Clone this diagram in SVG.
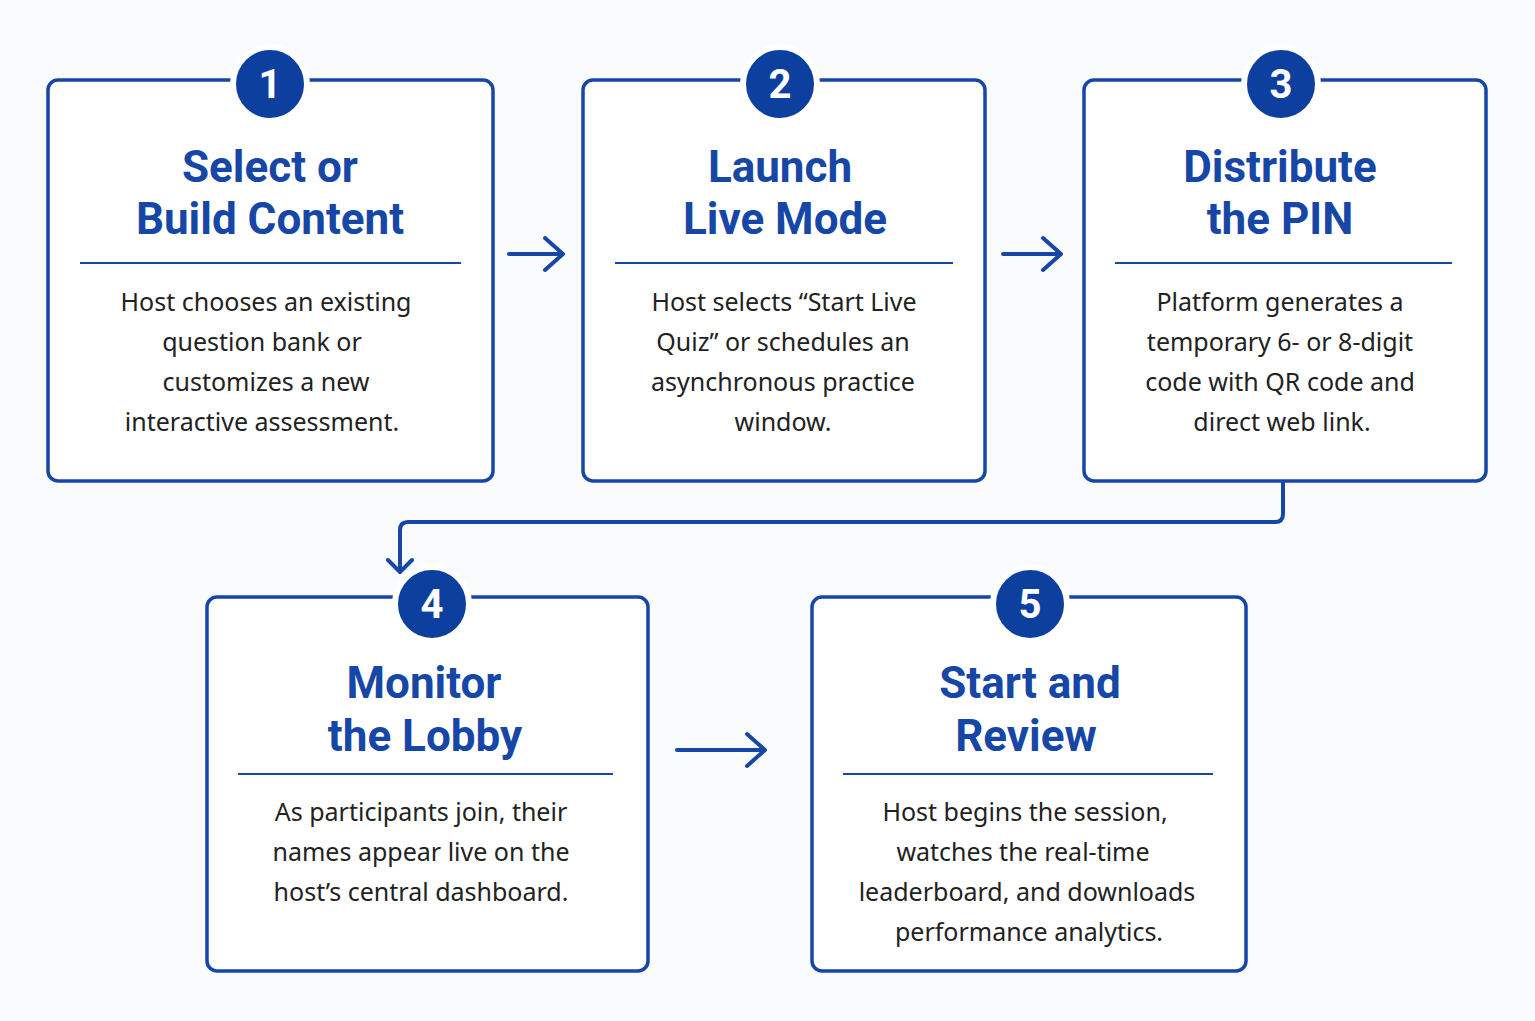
<svg xmlns="http://www.w3.org/2000/svg" width="1535" height="1021" viewBox="0 0 1535 1021">
<style>
.box{fill:#fff;stroke:#1747a6;stroke-width:3.5}
.num{fill:#0d3f9e;stroke:#fff;stroke-width:6}
.nt{fill:#fff;font-family:Roboto,"Liberation Sans",sans-serif;font-weight:bold;font-size:40px;text-anchor:middle}
.t{fill:#1747a6;font-family:Roboto,"Liberation Sans",sans-serif;font-weight:bold;font-size:44px;text-anchor:middle}
.b{fill:#222;font-family:"Noto Sans","DejaVu Sans",sans-serif;font-size:25px;text-anchor:middle}
.div{stroke:#1747a6;stroke-width:2}
.c{fill:none;stroke:#1747a6;stroke-width:4;stroke-linecap:round;stroke-linejoin:round}
</style>
<rect width="1535" height="1021" fill="#fafbfc"/>
<g id="connectors">
<path class="c" d="M509 254H563M545 238L563 254L545 270"/>
<path class="c" d="M1003 254H1061M1043 238L1061 254L1043 270"/>
<path class="c" d="M677 750H765M747 734L765 750L747 766"/>
<path class="c" d="M1283 483V514Q1283 522 1275 522H408Q400 522 400 530V572M388 560L400 572L412 560" stroke-width="3.5"/>
</g>
<g id="n1">
<rect class="box" x="48" y="80" width="445" height="401" rx="10"/>
<circle class="num" cx="270" cy="84" r="37"/><text class="nt" x="270" y="98">1</text>
<text class="t" x="270" y="182">Select or</text><text class="t" x="270" y="234">Build Content</text>
<line class="div" x1="80" y1="263" x2="461" y2="263"/>
<text class="b" x="266" y="311">Host chooses an existing</text>
<text class="b" x="262" y="351">question bank or</text>
<text class="b" x="266" y="391">customizes a new</text>
<text class="b" x="262" y="431">interactive assessment.</text>
</g>
<g id="n2">
<rect class="box" x="583" y="80" width="402" height="401" rx="10"/>
<circle class="num" cx="780" cy="84" r="37"/><text class="nt" x="780" y="98">2</text>
<text class="t" x="780" y="182">Launch</text><text class="t" x="785" y="234">Live Mode</text>
<line class="div" x1="615" y1="263" x2="953" y2="263"/>
<text class="b" x="784" y="311">Host selects “Start Live</text>
<text class="b" x="783" y="351">Quiz” or schedules an</text>
<text class="b" x="783" y="391">asynchronous practice</text>
<text class="b" x="783" y="431">window.</text>
</g>
<g id="n3">
<rect class="box" x="1084" y="80" width="402" height="401" rx="10"/>
<circle class="num" cx="1281" cy="84" r="37"/><text class="nt" x="1281" y="98">3</text>
<text class="t" x="1280" y="182">Distribute</text><text class="t" x="1280" y="234">the PIN</text>
<line class="div" x1="1115" y1="263" x2="1452" y2="263"/>
<text class="b" x="1280" y="311">Platform generates a</text>
<text class="b" x="1280" y="351">temporary 6- or 8-digit</text>
<text class="b" x="1280" y="391">code with QR code and</text>
<text class="b" x="1282" y="431">direct web link.</text>
</g>
<g id="n4">
<rect class="box" x="207" y="597" width="441" height="374" rx="10"/>
<circle class="num" cx="432" cy="604" r="37"/><text class="nt" x="432" y="618">4</text>
<text class="t" x="424" y="698">Monitor</text><text class="t" x="425" y="751">the Lobby</text>
<line class="div" x1="238" y1="774" x2="613" y2="774"/>
<text class="b" x="421" y="821">As participants join, their</text>
<text class="b" x="421" y="861">names appear live on the</text>
<text class="b" x="421" y="901">host’s central dashboard.</text>
</g>
<g id="n5">
<rect class="box" x="812" y="597" width="434" height="374" rx="10"/>
<circle class="num" cx="1030" cy="604" r="37"/><text class="nt" x="1030" y="618">5</text>
<text class="t" x="1030" y="698">Start and</text><text class="t" x="1026" y="751">Review</text>
<line class="div" x1="843" y1="774" x2="1213" y2="774"/>
<text class="b" x="1025" y="821">Host begins the session,</text>
<text class="b" x="1023" y="861">watches the real-time</text>
<text class="b" x="1027" y="901">leaderboard, and downloads</text>
<text class="b" x="1029" y="941">performance analytics.</text>
</g>
</svg>
